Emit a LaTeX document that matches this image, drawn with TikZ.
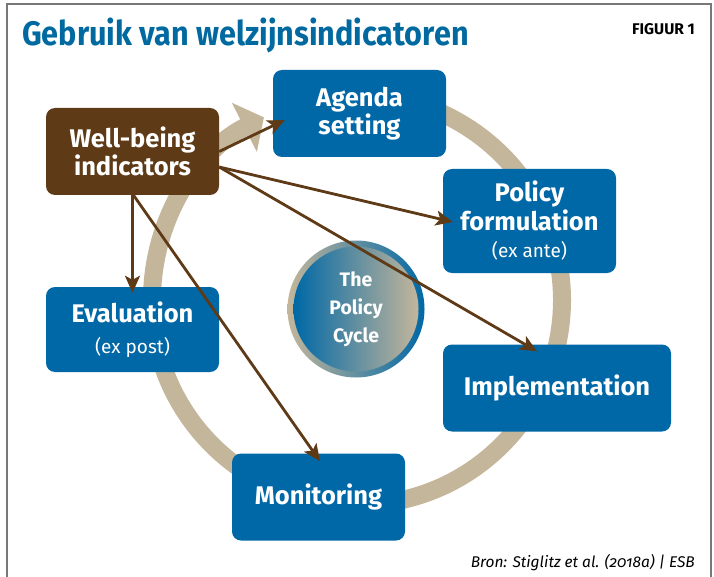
\documentclass[tikz,border=0pt]{standalone}
\usepackage{fontspec}
\setmainfont{Fira Sans}
\newfontfamily\titlefont{Fira Sans}[FakeStretch=0.9]
\newfontfamily\srcfont{Fira Sans}[Numbers=OldStyle]
\usetikzlibrary{arrows.meta,calc}

\definecolor{esbblue}{RGB}{0,104,166}
\definecolor{titleblue}{RGB}{0,106,160}
\definecolor{esbbrown}{RGB}{94,58,22}
\definecolor{esbtan}{RGB}{196,182,155}
\definecolor{framegray}{RGB}{120,120,120}

\newcommand\subtext{\fontsize{19}{22}\selectfont\mdseries}

\begin{document}
\begin{tikzpicture}[x=1pt, y=-1pt,
    box/.style={fill=esbblue, rounded corners=9pt, minimum width=173pt, minimum height=87pt, inner sep=0pt, text=white, align=center, font=\fontsize{25.5}{28.5}\selectfont\bfseries},
    wbbox/.style={box, fill=esbbrown},
    flow/.style={-{Stealth[length=17pt,width=15pt,inset=4pt]}, line width=2.8pt, esbbrown},
    band/.style={-{Triangle[length=22pt,width=54pt]}, line width=18pt, esbtan}
  ]
    \useasboundingbox (0,0) rectangle (714,577);
    \draw[framegray, line width=1.4pt] (7,577) -- (7,4) -- (711,4) -- (711,577);

    \node[anchor=base west, inner sep=0pt, text=titleblue, font=\titlefont\fontsize{34}{34}\selectfont\bfseries] (title) at (22,46) {Gebruik van welzijnsindicatoren};
    \node[anchor=base east, inner sep=0pt, font=\fontsize{15.5}{15.5}\selectfont\bfseries] (fig) at (695,35) {FIGUUR 1};

    % the cycle behind the boxes
    \coordinate (mid) at (357,300);
    \draw[band] (mid) ++(265:205) arc[start angle=265, end angle=603, radius=205];

    \node[box] (agenda) at (359.5,113.5) {Agenda\\setting};
    \node[wbbox] (wb) at (132.5,151.5) {Well-being\\indicators};
    \node[box, minimum height=104pt] (policy) at (529.5,221) {Policy\\formulation\\[-1pt]{\subtext (ex ante)}};
    \node[box, minimum height=85pt] (eval) at (132.5,329.5) {Evaluation\\[2pt]{\subtext (ex post)}};
    \node[box, minimum width=228pt] (impl) at (557,388) {Implementation};
    \node[box] (mon) at (318.5,497) {Monitoring};

    \node[circle, minimum size=137pt, left color=esbtan, right color=esbblue] (ring) at (356,309) {};
    \node[circle, minimum size=125pt, inner sep=0pt, left color=esbblue, right color=esbtan, text=white, align=center, font=\fontsize{19.5}{28}\selectfont\bfseries] (cycle) at (356,309) {The\\Policy\\Cycle};

    \draw[flow] (wb.east) -- ([xshift=12pt, yshift=-6.5pt]agenda.west);
    \draw[flow] ([yshift=-15.5pt]wb.east) -- ([xshift=10pt, yshift=-1pt]policy.west);
    \draw[flow] ([yshift=-15.5pt]wb.east) -- ([xshift=-20pt, yshift=-7pt]impl.north);
    \draw[flow] ([xshift=1pt]wb.south) -- ([xshift=1.5pt, yshift=-8pt]mon.north);
    \draw[flow] (wb.south) -- ([yshift=-6pt]eval.north);

    \node[anchor=base east, inner sep=0pt, font=\srcfont\fontsize{15.5}{15.5}\selectfont\itshape] (src) at (695,567) {Bron: Stiglitz et al. (2018a) | ESB};
  \end{tikzpicture}
\end{document}
